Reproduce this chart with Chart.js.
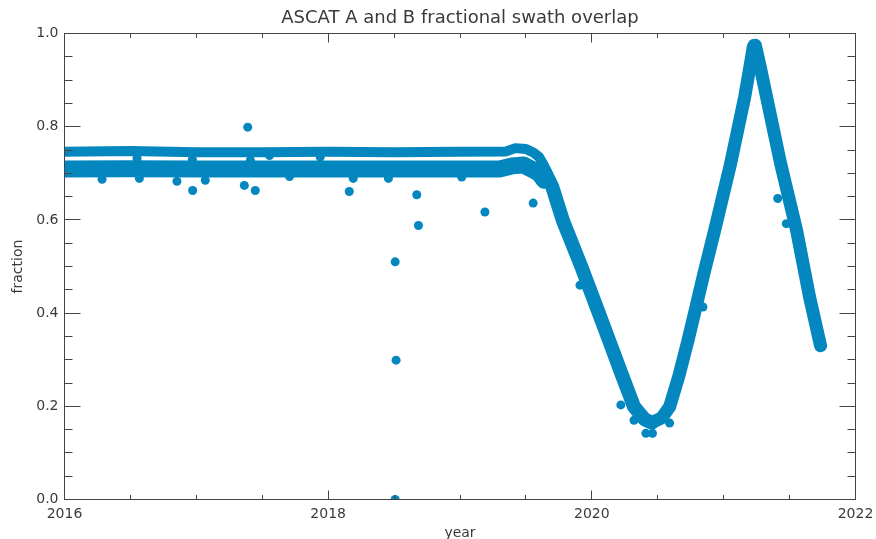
<!DOCTYPE html>
<html>
<head>
<meta charset="utf-8">
<title>ASCAT A and B fractional swath overlap</title>
<script src="https://cdn.jsdelivr.net/npm/chart.js@4.4.1/dist/chart.umd.min.js"></script>
<style>
  html, body { margin: 0; padding: 0; background: #ffffff; }
  #chart { display: block; }
</style>
</head>
<body>
<canvas id="chart" width="876" height="539"></canvas>
<script>
// values
const upperBandYears  = [2016.0, 2016.5, 2017.0, 2017.5, 2018.0, 2018.5, 2019.0, 2019.35, 2019.42, 2019.50, 2019.56, 2019.60, 2019.64, 2019.68];
const upperBandValues = [0.746, 0.748, 0.745, 0.745, 0.746, 0.745, 0.746, 0.747, 0.754, 0.752, 0.744, 0.735, 0.715, 0.690];

const lowerBandYears  = [2016.0, 2016.5, 2017.0, 2017.5, 2018.0, 2018.5, 2019.0, 2019.30, 2019.40, 2019.48, 2019.55, 2019.60, 2019.64];
const lowerBandValues = [0.709, 0.710, 0.709, 0.709, 0.709, 0.709, 0.709, 0.709, 0.716, 0.718, 0.708, 0.700, 0.685];

// descent towards the 2020 minimum
const fallYears  = [2019.64, 2019.70, 2019.78, 2019.92, 2020.00, 2020.06, 2020.13, 2020.225, 2020.32, 2020.40, 2020.455];
const fallValues = [0.705, 0.671, 0.599, 0.500, 0.440, 0.395, 0.342, 0.270, 0.199, 0.172, 0.165];

// rise to the 2021 peak and the drop after it
const peakYears  = [2020.455, 2020.53, 2020.59, 2020.66, 2020.73, 2020.79, 2020.85, 2020.932, 2021.053, 2021.159, 2021.20, 2021.225, 2021.24, 2021.28, 2021.326, 2021.432, 2021.553, 2021.652, 2021.735];
const peakValues = [0.165, 0.175, 0.199, 0.265, 0.342, 0.413, 0.485, 0.578, 0.721, 0.863, 0.930, 0.972, 0.975, 0.925, 0.863, 0.721, 0.578, 0.434, 0.330];

// single dots away from the bands
const dotYears  = [2016.285, 2016.568, 2016.853, 2016.972, 2017.068, 2017.390, 2017.364, 2017.447, 2017.707, 2018.160,
                   2018.672, 2018.685, 2019.189, 2019.555, 2018.508, 2018.515, 2018.508, 2018.190, 2018.457, 2019.013,
                   2016.550, 2017.410, 2017.555, 2017.940, 2016.970, 2021.410, 2021.475, 2020.843, 2020.220, 2020.320,
                   2020.410, 2020.460, 2020.590, 2019.910, 2021.740, 2021.222];
const dotValues = [0.687, 0.689, 0.683, 0.663, 0.685, 0.799, 0.674, 0.663, 0.693, 0.661,
                   0.654, 0.588, 0.617, 0.636, 0.510, 0.299, 0.000, 0.689, 0.689, 0.692,
                   0.732, 0.728, 0.738, 0.735, 0.730, 0.646, 0.592, 0.413, 0.203, 0.170,
                   0.142, 0.142, 0.164, 0.460, 0.3275, 0.978];

const xMajorTicks = [2016, 2018, 2020, 2022];
const xTickLabels = ['2016', '2018', '2020', '2022'];
const xMinorTicks = [2016.5, 2017, 2017.5, 2018.5, 2019, 2019.5, 2020.5, 2021, 2021.5];
const yMajorTicks = [0, 0.2, 0.4, 0.6, 0.8, 1.0];
const yTickLabels = ['0.0', '0.2', '0.4', '0.6', '0.8', '1.0'];
const yMinorTicks = [0.05, 0.1, 0.15, 0.25, 0.3, 0.35, 0.45, 0.5, 0.55, 0.65, 0.7, 0.75, 0.85, 0.9, 0.95];

const dotColor = 'rgb(3,135,190)';
const axisColor = '#454545';
const textColor = '#3a3a3a';
const fontFamily = "'DejaVu Sans', sans-serif";

const toPoints = (xs, ys) => xs.map((x, i) => ({ x: x, y: ys[i] }));

// a band of overlapping dots, drawn as one thick line through the read points
const band = (xs, ys, width) => ({
    data: toPoints(xs, ys),
    showLine: true,
    borderColor: dotColor,
    backgroundColor: dotColor,
    borderWidth: width,
    borderCapStyle: 'round',
    borderJoinStyle: 'round',
    pointRadius: 0,
    tension: 0,
    clip: 0
});

// box round the plot with IDL style inward ticks
const frameTicks = {
    id: 'frameTicks',
    afterDatasetsDraw(chart) {
        const { ctx, chartArea: a, scales: { x, y } } = chart;
        ctx.save();
        ctx.strokeStyle = axisColor;
        ctx.lineWidth = 1;
        ctx.strokeRect(a.left, a.top, a.right - a.left, a.bottom - a.top);
        ctx.beginPath();
        const xTicks = (vals, len) => vals.forEach(v => {
            const px = Math.floor(x.getPixelForValue(v)) + 0.5;
            ctx.moveTo(px, a.bottom); ctx.lineTo(px, a.bottom - len);
            ctx.moveTo(px, a.top); ctx.lineTo(px, a.top + len);
        });
        const yTicks = (vals, len) => vals.forEach(v => {
            const py = Math.floor(y.getPixelForValue(v)) + 0.5;
            ctx.moveTo(a.left, py); ctx.lineTo(a.left + len, py);
            ctx.moveTo(a.right, py); ctx.lineTo(a.right - len, py);
        });
        xTicks(xMajorTicks, 9);
        xTicks(xMinorTicks, 4.5);
        yTicks(yMajorTicks, 16);
        yTicks(yMinorTicks, 8);
        ctx.stroke();
        ctx.restore();
    }
};

new Chart(document.getElementById('chart'), {
    type: 'scatter',
    data: {
        datasets: [
            band(upperBandYears, upperBandValues, 10),
            band(lowerBandYears, lowerBandValues, 17),
            band(fallYears, fallValues, 14),
            band(peakYears, peakValues, 13),
            {
                data: toPoints(dotYears, dotValues),
                backgroundColor: dotColor,
                borderWidth: 0,
                pointRadius: 4.5,
                clip: 0
            }
        ]
    },
    options: {
        responsive: false,
        animation: false,
        devicePixelRatio: 1,
        layout: { padding: { left: 0, right: 20.5, top: 0, bottom: 0 } },
        plugins: {
            legend: { display: false },
            tooltip: { enabled: false },
            title: {
                display: true,
                text: 'ASCAT A and B fractional swath overlap',
                fullSize: false,
                color: textColor,
                font: { family: fontFamily, size: 18, weight: 'normal' },
                padding: { top: 8, bottom: 3.9 }
            }
        },
        scales: {
            x: {
                type: 'linear',
                min: 2016,
                max: 2022,
                grid: { display: false, drawTicks: false },
                border: { display: false },
                afterBuildTicks: scale => { scale.ticks = xMajorTicks.map(v => ({ value: v })); },
                afterFit: scale => {
                    scale.height = 39.5;
                    scale.paddingLeft = 0;
                    scale.paddingRight = 0;
                },
                ticks: {
                    callback: (v, i) => xTickLabels[i],
                    color: textColor,
                    padding: 6,
                    maxRotation: 0,
                    font: { family: fontFamily, size: 14 }
                },
                title: {
                    display: true,
                    text: 'year',
                    color: textColor,
                    padding: { top: 0, bottom: -3 },
                    font: { family: fontFamily, size: 14 }
                }
            },
            y: {
                min: 0,
                max: 1,
                grid: { display: false, drawTicks: false },
                border: { display: false },
                afterBuildTicks: scale => { scale.ticks = yMajorTicks.map(v => ({ value: v })); },
                afterFit: scale => { scale.width = 64.5; },
                ticks: {
                    callback: (v, i) => yTickLabels[i],
                    color: textColor,
                    padding: 6,
                    font: { family: fontFamily, size: 14 }
                },
                title: {
                    display: true,
                    text: 'fraction',
                    color: textColor,
                    padding: { top: 10, bottom: 0 },
                    font: { family: fontFamily, size: 14 }
                }
            }
        }
    },
    plugins: [frameTicks]
});
</script>
</body>
</html>
